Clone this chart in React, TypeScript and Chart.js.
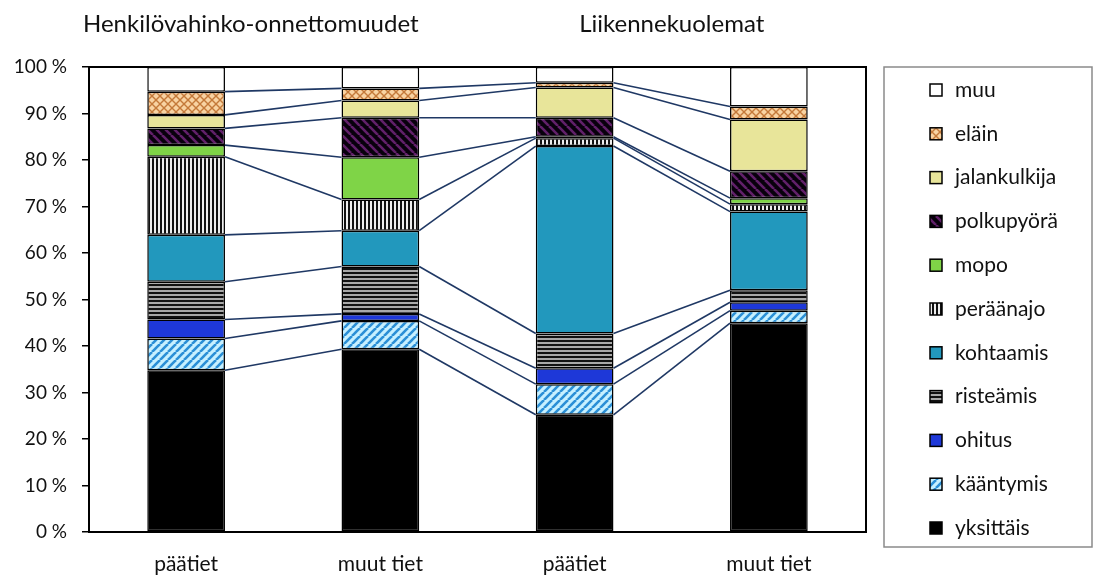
import React, { useEffect, useRef } from "react";
import { Chart, registerables } from "chart.js";
Chart.register(...registerables);

const categories = ["päätiet", "muut tiet", "päätiet", "muut tiet"];
const groupTitles = ["Henkilövahinko-onnettomuudet", "Liikennekuolemat"];
const seriesNames = ["yksittäis", "kääntymis", "ohitus", "risteämis", "kohtaamis", "peräänajo", "mopo", "polkupyörä", "jalankulkija", "eläin", "muu"];
const yksittais = [34.8, 39.3, 25.2, 44.9];
const kaantymis = [6.8, 6.1, 6.6, 2.7];
const ohitus = [4.1, 1.5, 3.4, 1.8];
const risteamis = [8.1, 10.2, 7.5, 2.6];
const kohtaamis = [10.1, 7.7, 40.3, 16.9];
const peraanajo = [16.8, 6.7, 1.7, 1.6];
const mopo = [2.5, 9.1, 0.3, 1.3];
const polkupyora = [3.6, 8.5, 4.1, 5.8];
const jalankulkija = [2.9, 3.7, 6.5, 11.1];
const elain = [5.0, 2.6, 1.0, 2.8];
const muu = [5.3, 4.6, 3.4, 8.5];
const seriesValues = [yksittais, kaantymis, ohitus, risteamis, kohtaamis, peraanajo, mopo, polkupyora, jalankulkija, elain, muu];
const yMin = 0;
const yMax = 100;
const yStep = 10;

const FONT = "Lato, 'Open Sans', sans-serif";

function makeTile(w: number, h: number, draw: (g: CanvasRenderingContext2D) => void) {
  const c = document.createElement("canvas");
  c.width = w;
  c.height = h;
  const g = c.getContext("2d") as CanvasRenderingContext2D;
  draw(g);
  return c;
}

function diag(g: CanvasRenderingContext2D, s: number, dir: "/" | "\\") {
  for (const off of [-s, 0, s]) {
    g.beginPath();
    if (dir === "/") {
      g.moveTo(off, s);
      g.lineTo(off + s, 0);
    } else {
      g.moveTo(off, 0);
      g.lineTo(off + s, s);
    }
    g.stroke();
  }
}

function buildFills(ctx: CanvasRenderingContext2D): (string | CanvasPattern)[] {
  const pat = (c: HTMLCanvasElement) => ctx.createPattern(c, "repeat") as CanvasPattern;
  const kaant = makeTile(8, 8, (g) => {
    g.fillStyle = "#C6F0FF";
    g.fillRect(0, 0, 8, 8);
    g.strokeStyle = "#2A8FD6";
    g.lineWidth = 2.6;
    diag(g, 8, "/");
  });
  const rist = makeTile(1, 4, (g) => {
    g.fillStyle = "#111";
    g.fillRect(0, 0, 1, 2);
    g.fillStyle = "#A8A8A8";
    g.fillRect(0, 2, 1, 2);
  });
  const peraa = makeTile(4, 1, (g) => {
    g.fillStyle = "#111";
    g.fillRect(0, 0, 2, 1);
    g.fillStyle = "#EEEEEE";
    g.fillRect(2, 0, 2, 1);
  });
  const polku = makeTile(9, 9, (g) => {
    g.fillStyle = "#08000C";
    g.fillRect(0, 0, 9, 9);
    g.strokeStyle = "#62206A";
    g.lineWidth = 2.6;
    diag(g, 9, "\\");
  });
  const elainT = makeTile(8, 8, (g) => {
    g.fillStyle = "#F8D3A2";
    g.fillRect(0, 0, 8, 8);
    g.strokeStyle = "#C47A3A";
    g.lineWidth = 1.4;
    diag(g, 8, "/");
    diag(g, 8, "\\");
  });
  return [
    "#000000",
    pat(kaant),
    "#1E38D8",
    pat(rist),
    "#2298BD",
    pat(peraa),
    "#7FD447",
    pat(polku),
    "#E8E59A",
    pat(elainT),
    "#FFFFFF",
  ];
}

export default function App() {
  const ref = useRef<HTMLCanvasElement | null>(null);
  useEffect(() => {
    const canvas = ref.current;
    if (!canvas) return;
    const ctx = canvas.getContext("2d") as CanvasRenderingContext2D;
    const fills = buildFills(ctx);

    const decor = {
      id: "decor",
      afterDatasetsDraw(chart: any) {
        const c = chart.ctx as CanvasRenderingContext2D;
        c.save();
        // series lines
        c.strokeStyle = "#1F3864";
        c.lineWidth = 1.6;
        chart.data.datasets.forEach((_: any, di: number) => {
          const meta = chart.getDatasetMeta(di);
          for (let i = 0; i < meta.data.length - 1; i++) {
            const a = meta.data[i] as any;
            const b = meta.data[i + 1] as any;
            c.beginPath();
            c.moveTo(a.x + a.width / 2, a.y);
            c.lineTo(b.x - b.width / 2, b.y);
            c.stroke();
          }
        });
        const { left, top, right, bottom } = chart.chartArea;
        c.strokeStyle = "#000";
        c.lineWidth = 2;
        c.strokeRect(left, top, right - left, bottom - top);

        // group titles
        const xs = chart.scales.x;
        c.fillStyle = "#111";
        c.font = `24px ${FONT}`;
        c.textBaseline = "middle";
        c.textAlign = "left";
        c.fillText(groupTitles[0], left - 6, 24);
        c.textAlign = "center";
        c.fillText(groupTitles[1], (xs.getPixelForValue(2) + xs.getPixelForValue(3)) / 2, 24);

        // legend
        const lx = right + 18;
        const lw = chart.width - 6 - lx;
        c.strokeStyle = "#8A8A8A";
        c.lineWidth = 1.5;
        c.strokeRect(lx, top, lw, 480);
        c.font = `21px ${FONT}`;
        c.textAlign = "left";
        const n = seriesNames.length;
        for (let k = 0; k < n; k++) {
          const di = n - 1 - k;
          const cy = 90 + k * 43.8;
          c.fillStyle = fills[di] as any;
          c.fillRect(lx + 46, cy - 6, 12, 12);
          c.strokeStyle = "#000";
          c.lineWidth = 1.5;
          c.strokeRect(lx + 46, cy - 6, 12, 12);
          c.fillStyle = "#111";
          c.fillText(seriesNames[di], lx + 71, cy);
        }
        c.restore();
      },
    };

    const chart = new Chart(canvas, {
      type: "bar",
      data: {
        labels: categories,
        datasets: seriesNames.map((name, i) => ({
          label: name,
          data: seriesValues[i],
          backgroundColor: fills[i] as any,
          borderColor: "#000",
          borderWidth: 1.5,
          borderSkipped: false,
          categoryPercentage: 1,
          barPercentage: 0.4,
        })),
      },
      options: {
        animation: false,
        responsive: false,
        devicePixelRatio: 1,
        layout: { padding: { top: 67, right: 232, bottom: 0, left: 0 } },
        plugins: { legend: { display: false }, tooltip: { enabled: false }, title: { display: false } },
        scales: {
          x: {
            stacked: true,
            grid: { display: false },
            border: { display: true, color: "#000", width: 2 },
            ticks: { color: "#111", font: { family: FONT, size: 21 }, padding: 12 },
            afterFit: (s: any) => {
              s.height = 47;
            },
          },
          y: {
            stacked: true,
            min: yMin,
            max: yMax,
            grid: { drawOnChartArea: false, drawTicks: true, tickLength: 7, color: "#000", lineWidth: 1.5 },
            border: { display: true, color: "#000", width: 2 },
            ticks: {
              stepSize: yStep,
              color: "#111",
              padding: 15,
              font: { family: FONT, size: 19 },
              callback: (v: any) => `${v} %`,
            },
            afterFit: (s: any) => {
              s.width = 89;
            },
          },
        },
      },
      plugins: [decor],
    });
    return () => chart.destroy();
  }, []);

  return (
    <div style={{ position: "absolute", left: 0, top: 0, width: 1098, height: 579, background: "#fff" }}>
      <canvas ref={ref} width={1098} height={579} />
    </div>
  );
}
